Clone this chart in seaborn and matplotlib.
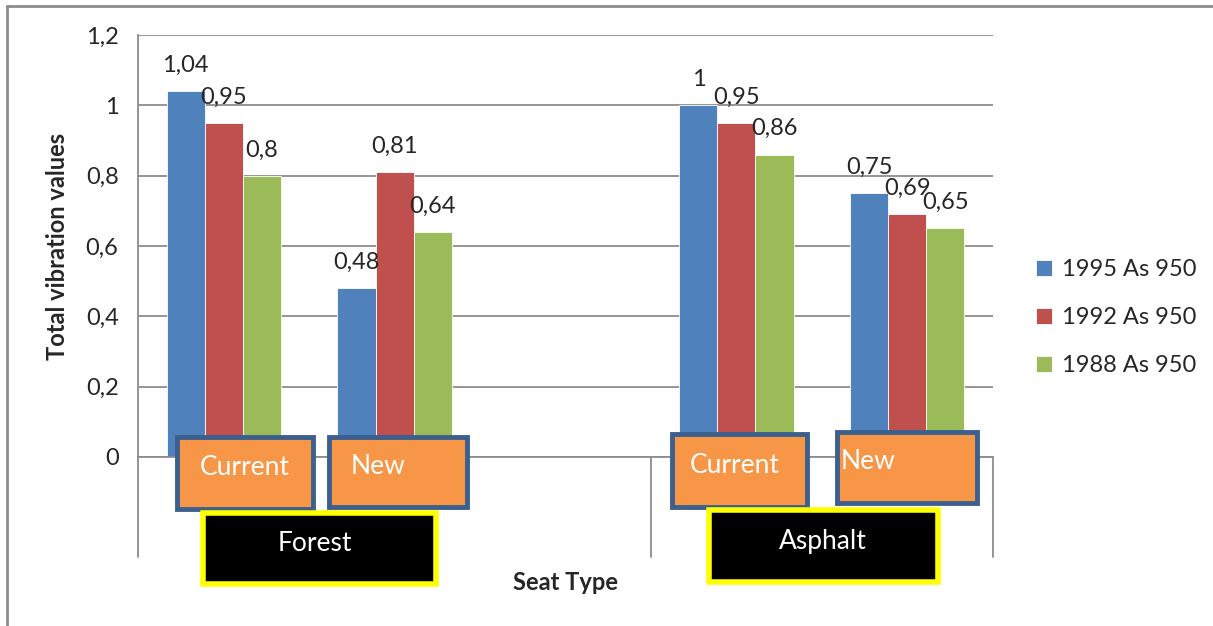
import matplotlib
matplotlib.use("Agg")
import matplotlib.pyplot as plt
from matplotlib.patches import Rectangle
from matplotlib.lines import Line2D
import seaborn as sns
import pandas as pd

# categories (third slot left empty, like the original sheet)
slots = ["Forest Current", "Forest New", "gap", "Asphalt Current", "Asphalt New"]
data_slots = ["Forest Current", "Forest New", "Asphalt Current", "Asphalt New"]
series = ["1995 As 950", "1992 As 950", "1988 As 950"]
v1995 = [1.04, 0.48, 1.00, 0.75]
v1992 = [0.95, 0.81, 0.95, 0.69]
v1988 = [0.80, 0.64, 0.86, 0.65]
value_labels = {
    "1995 As 950": ["1,04", "0,48", "1", "0,75"],
    "1992 As 950": ["0,95", "0,81", "0,95", "0,69"],
    "1988 As 950": ["0,8", "0,64", "0,86", "0,65"],
}
seat_labels = ["Current", "New", "Current", "New"]
surface_labels = ["Forest", "Asphalt"]
yticks = [0, 0.2, 0.4, 0.6, 0.8, 1.0, 1.2]
ytick_labels = ["0", "0,2", "0,4", "0,6", "0,8", "1", "1,2"]
colors = ["#4F81BD", "#C0504D", "#9BBB59"]

rows = []
for s, vals in zip(series, [v1995, v1992, v1988]):
    for c, v in zip(data_slots, vals):
        rows.append({"slot": c, "series": s, "value": v})
df = pd.DataFrame(rows)

sns.set_style("white")
plt.rcParams["font.family"] = ["Lato", "DejaVu Sans"]

fig = plt.figure(figsize=(12.13, 6.26), dpi=100)
ax = fig.add_axes([0.1138, 0.2700, 0.7048, 0.6741])

sns.barplot(data=df, x="slot", y="value", hue="series", order=slots,
            hue_order=series, palette=colors, width=0.667, gap=0,
            saturation=1, edgecolor="white", linewidth=0.6, ax=ax,
            legend=True)

ax.set_ylim(0, 1.2)
ax.set_xlim(-0.5, 4.5)
ax.set_yticks(yticks)
ax.set_yticklabels(ytick_labels, fontsize=17)
ax.set_xticks([])
ax.yaxis.grid(True, color="#8c8c8c", linewidth=1.3)
ax.set_axisbelow(True)
for sp in ["top", "right"]:
    ax.spines[sp].set_visible(False)
ax.spines["left"].set_color("#8c8c8c")
ax.spines["left"].set_linewidth(1.3)
ax.spines["bottom"].set_color("#8c8c8c")
ax.spines["bottom"].set_linewidth(1.3)
ax.tick_params(axis="y", length=8, color="#8c8c8c", width=1.3, pad=6)
ax.set_xlabel("")
ax.set_ylabel("Total vibration values", fontsize=17, fontweight="bold", labelpad=12)

# data labels
for cont, s in zip(ax.containers, series):
    ax.bar_label(cont, labels=value_labels[s], fontsize=17, padding=11)

# legend
handles, lbls = ax.get_legend_handles_labels()
ax.legend(handles, lbls, loc="center left", bbox_to_anchor=(1.025, 0.33),
          frameon=False, fontsize=17, handlelength=0.7, handleheight=0.7,
          handletextpad=0.4, labelspacing=1.15)

# group separators below axis
for xs in [-0.5, 2.5, 4.5]:
    ax.plot([xs, xs], [0, -0.284], color="#8c8c8c", lw=1.3, clip_on=False)

# orange category boxes
seat_boxes = [(-0.272, 0.523, -0.148, 0.057), (0.617, 1.424, -0.142, 0.057),
              (2.623, 3.412, -0.142, 0.065), (3.588, 4.406, -0.131, 0.071)]
seat_text = [(0.122, -0.031), (0.906, -0.026), (2.99, -0.023), (3.77, -0.014)]
for (x0, x1, y0, y1), (tx, ty), lab in zip(seat_boxes, seat_text, seat_labels):
    ax.add_patch(Rectangle((x0, y0), x1 - x0, y1 - y0, facecolor="#F79646",
                           edgecolor="#3B5F8E", lw=3.5, clip_on=False, zorder=5))
    ax.text(tx, ty, lab, color="white", fontsize=19, ha="center",
            va="center", zorder=6, clip_on=False)

# black group boxes
surf_boxes = [(-0.120, 1.243, -0.361, -0.159), (2.839, 4.178, -0.355, -0.151)]
surf_text = [(0.535, -0.245), (3.506, -0.239)]
for (x0, x1, y0, y1), (tx, ty), lab in zip(surf_boxes, surf_text, surface_labels):
    ax.add_patch(Rectangle((x0, y0), x1 - x0, y1 - y0, facecolor="black",
                           edgecolor="#FFFF00", lw=4, clip_on=False, zorder=5))
    ax.text(tx, ty, lab, color="white", fontsize=19,
            ha="center", va="center", zorder=6, clip_on=False)

fig.text(0.4666, 0.070, "Seat Type", fontsize=17, fontweight="bold",
         ha="center", va="center")

# outer frame (only left and top visible)
fig.add_artist(Line2D([0.0054, 0.0054], [0, 0.9904], transform=fig.transFigure,
                      color="#8c8c8c", lw=2))
fig.add_artist(Line2D([0.0054, 1], [0.9904, 0.9904], transform=fig.transFigure,
                      color="#8c8c8c", lw=2))

fig.savefig("out.png", dpi=100)
